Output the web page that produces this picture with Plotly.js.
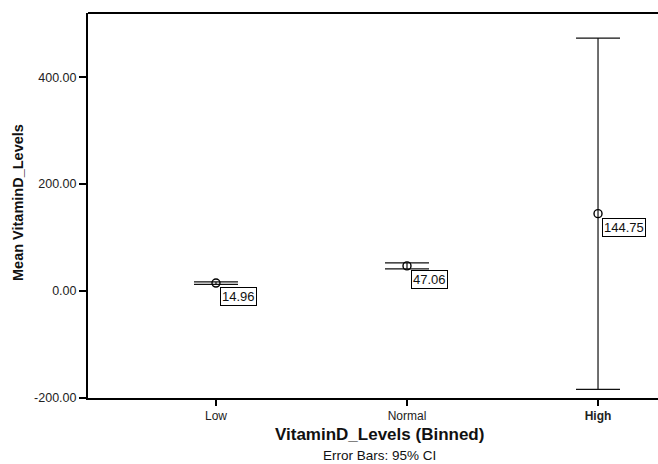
<!DOCTYPE html>
<html>
<head>
<meta charset="utf-8">
<script src="https://cdn.plot.ly/plotly-3.0.1.min.js"></script>
<style>
html, body { margin: 0; padding: 0; background: #fff; }
#chart { width: 658px; height: 464px; }
</style>
</head>
<body>
<div id="chart"></div>
<script>
const categories = ['Low', 'Normal', 'High'];
const tickLabels = ['Low', 'Normal', '<b>High</b>'];
const means = [14.96, 47.06, 144.75];
const ciLower = [12.6, 41.3, -183.7];
const ciUpper = [17.3, 52.6, 473.2];
const meanLabels = ['14.96', '47.06', '144.75'];
const yTicks = [-200, 0, 200, 400];
const yTickLabels = ['-200.00', '0.00', '200.00', '400.00'];

const plus = means.map((m, i) => ciUpper[i] - m);
const minus = means.map((m, i) => m - ciLower[i]);

const FONT = 'Liberation Sans, Arial, sans-serif';

const trace = {
  type: 'scatter',
  mode: 'markers',
  x: categories,
  y: means,
  marker: { symbol: 'circle-open', size: 8, color: '#000', line: { width: 1.4, color: '#000' } },
  error_y: {
    type: 'data',
    symmetric: false,
    array: plus,
    arrayminus: minus,
    color: '#111',
    thickness: 1.2,
    width: 22
  },
  hoverinfo: 'skip'
};

const annotations = categories.map((c, i) => ({
  x: c, y: means[i], xref: 'x', yref: 'y',
  text: meanLabels[i],
  showarrow: false,
  xanchor: 'left', yanchor: 'top',
  xshift: 4, yshift: -4,
  bgcolor: '#fff', bordercolor: '#000', borderwidth: 1, borderpad: 1,
  font: { family: FONT, size: 13, color: '#111' }
}));

annotations.push({
  xref: 'paper', yref: 'paper',
  x: (379 - 88) / 570, y: -37 / 385,
  text: '<b>VitaminD_Levels (Binned)</b>',
  showarrow: false, xanchor: 'center', yanchor: 'middle',
  font: { family: FONT, size: 17, color: '#111' }
});
annotations.push({
  xref: 'paper', yref: 'paper',
  x: (379 - 88) / 570, y: -57.5 / 385,
  text: 'Error Bars: 95% CI',
  showarrow: false, xanchor: 'center', yanchor: 'middle',
  font: { family: FONT, size: 13.5, color: '#111' }
});
annotations.push({
  xref: 'paper', yref: 'paper',
  x: (18 - 88) / 570, y: (398 - 203) / 385,
  text: '<b>Mean VitaminD_Levels</b>',
  textangle: -90,
  showarrow: false, xanchor: 'center', yanchor: 'middle',
  font: { family: FONT, size: 14.5, color: '#111' }
});

const layout = {
  width: 658, height: 464,
  margin: { l: 88, r: 0, t: 13, b: 66 },
  paper_bgcolor: '#fff', plot_bgcolor: '#fff',
  showlegend: false,
  font: { family: FONT, size: 12, color: '#222' },
  xaxis: {
    type: 'category',
    range: [-0.670, 2.314],
    tickvals: categories,
    ticktext: tickLabels,
    showgrid: false, zeroline: false,
    showline: true, linecolor: '#000', linewidth: 2,
    ticks: 'outside', ticklen: 6, tickwidth: 1.5, tickcolor: '#000',
    tickfont: { family: FONT, size: 12, color: '#222' }
  },
  yaxis: {
    range: [-200, 520],
    tickvals: yTicks,
    ticktext: yTickLabels,
    showgrid: false, zeroline: false,
    showline: true, linecolor: '#000', linewidth: 2,
    ticks: 'outside', ticklen: 7, tickwidth: 1.5, tickcolor: '#000',
    tickfont: { family: FONT, size: 12.5, color: '#222' }
  },
  shapes: [{
    type: 'line', xref: 'paper', yref: 'paper',
    x0: 0, x1: 1, y0: 1, y1: 1,
    line: { color: '#000', width: 2 }
  }],
  annotations: annotations
};

Plotly.newPlot('chart', [trace], layout, { displayModeBar: false, staticPlot: true });
</script>
</body>
</html>
